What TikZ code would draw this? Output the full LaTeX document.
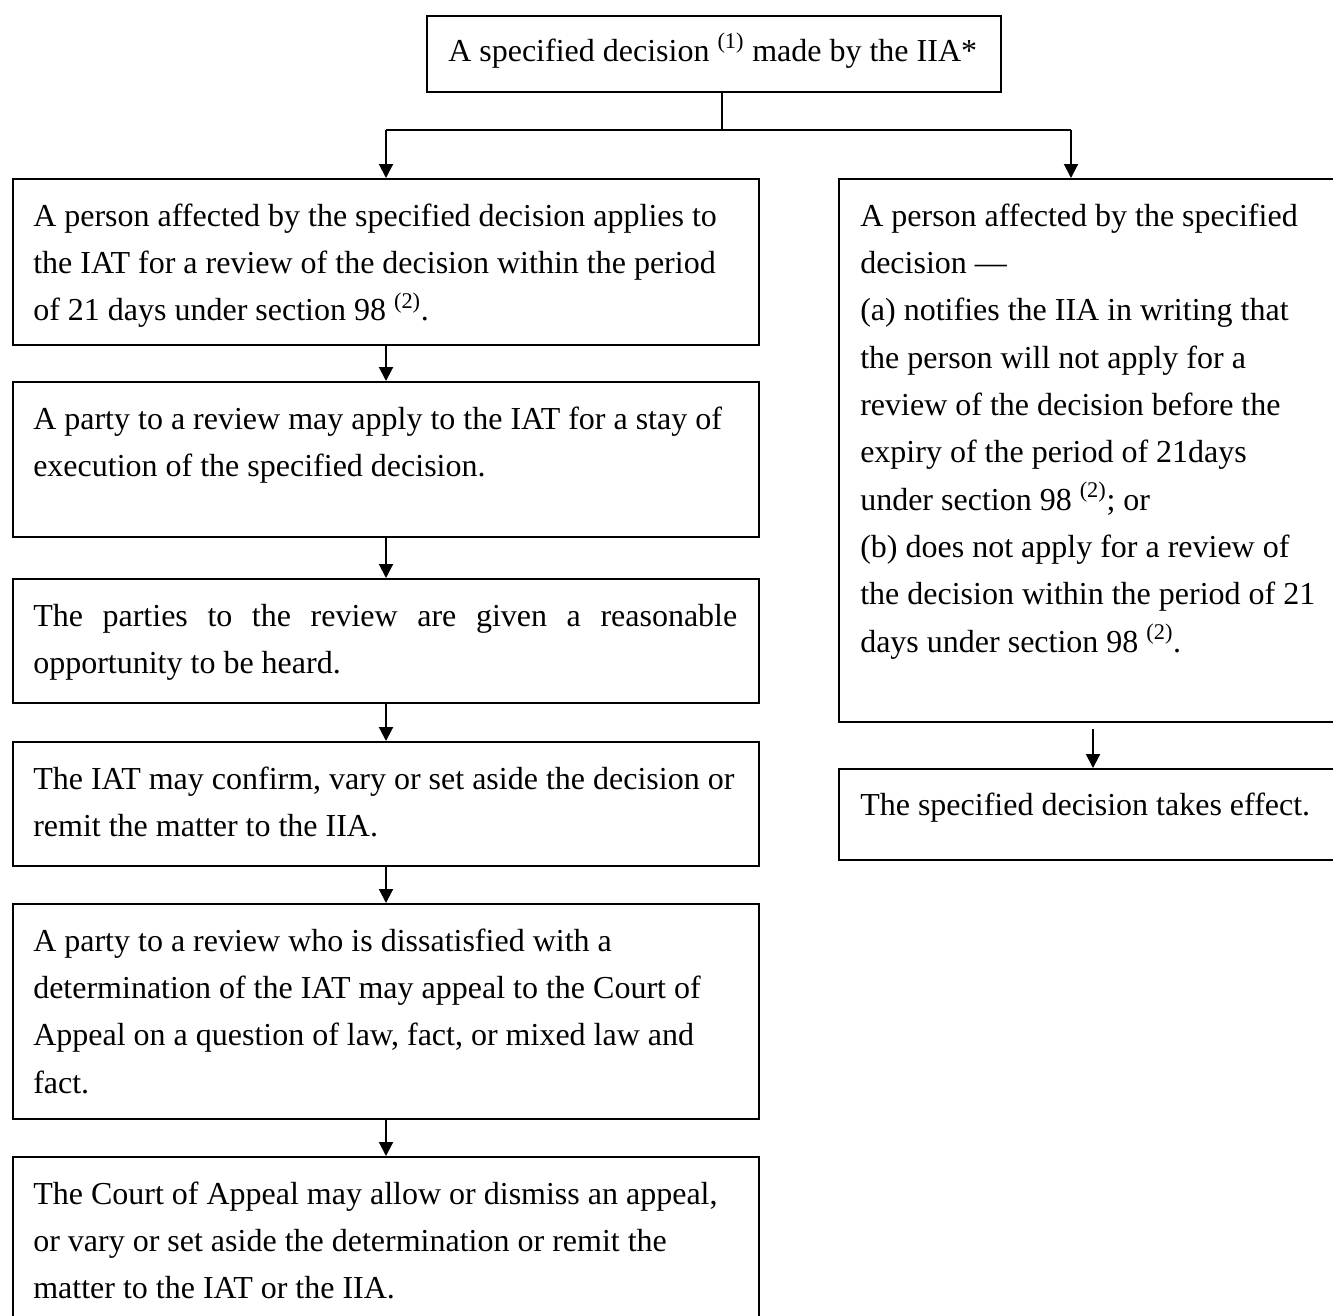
\documentclass[tikz,border=0pt]{standalone}
\usepackage{fontspec}
\setmainfont{Liberation Serif}
\usetikzlibrary{arrows.meta}
\begin{document}
\begin{tikzpicture}[x=0.75pt,y=-0.75pt,
  boxstyle/.style={draw, line width=1.5pt, rectangle, inner sep=0pt, anchor=north west},
  txt/.style={inner sep=0pt, anchor=base west, font=\fontsize{24pt}{35.5pt}\selectfont},
  conn/.style={line width=1.5pt},
  arr/.style={line width=1.5pt, -{Triangle[width=10.5pt,length=10.5pt]}}]
\useasboundingbox (0,0) rectangle (1333,1315);
\clip (0,0) rectangle (1333,1315);

% top box
\node[boxstyle, minimum width=430.5pt, minimum height=57pt] (top) at (426,15) {};
\node[txt] (ttop) at (448,61) {A specified decision \textsuperscript{(1)} made by the IIA*};

% left column
\node[boxstyle, minimum width=559.5pt, minimum height=124.5pt] (b1) at (12,178) {};
\node[txt] (t1) at (33,226) {\parbox[t]{540pt}{\raggedright A person affected by the specified decision applies to\\the IAT for a review of the decision within the period\\of 21 days under section 98 \textsuperscript{(2)}.}};

\node[boxstyle, minimum width=559.5pt, minimum height=116.25pt] (b2) at (12,381) {};
\node[txt] (t2) at (33,429) {\parbox[t]{540pt}{\raggedright A party to a review may apply to the IAT for a stay of\\execution of the specified decision.}};

\node[boxstyle, minimum width=559.5pt, minimum height=93pt] (b3) at (12,578) {};
\node[txt] (t3) at (33,626) {\parbox[t]{540pt}{\raggedright \makebox[528pt][s]{The parties to the review are given a reasonable}\\opportunity to be heard.}};

\node[boxstyle, minimum width=559.5pt, minimum height=93pt] (b4) at (12,741) {};
\node[txt] (t4) at (33,789) {\parbox[t]{540pt}{\raggedright The IAT may confirm, vary or set aside the decision or\\remit the matter to the IIA.}};

\node[boxstyle, minimum width=559.5pt, minimum height=161.25pt] (b5) at (12,903) {};
\node[txt] (t5) at (33,951) {\parbox[t]{540pt}{\raggedright A party to a review who is dissatisfied with a\\determination of the IAT may appeal to the Court of\\Appeal on a question of law, fact, or mixed law and\\fact.}};

\node[boxstyle, minimum width=559.5pt, minimum height=135pt] (b6) at (12,1156) {};
\node[txt] (t6) at (33,1204) {\parbox[t]{540pt}{\raggedright The Court of Appeal may allow or dismiss an appeal,\\or vary or set aside the determination or remit the\\matter to the IAT or the IIA.}};

% right column
\node[boxstyle, minimum width=390pt, minimum height=407.25pt] (rb) at (838,178) {};
\node[txt] (tr) at (860,226) {\parbox[t]{400pt}{\raggedright A person affected by the specified\\decision ---\\(a) notifies the IIA in writing that\\the person will not apply for a\\review of the decision before the\\expiry of the period of 21days\\under section 98 \textsuperscript{(2)}; or\\(b) does not apply for a review of\\the decision within the period of 21\\days under section 98 \textsuperscript{(2)}.}};

\node[boxstyle, minimum width=390pt, minimum height=68.25pt] (sb) at (838,768) {};
\node[txt] (ts) at (860,815) {The specified decision takes effect.};

% connectors
\coordinate (j) at (722,130);
\coordinate (la) at (386,130);
\coordinate (ra) at (1071,130);
\coordinate (sa) at (1093,729);
\draw[conn] (top.south -| j) -- (j);
\draw[conn] (la) -- (ra);
\draw[arr] (la) -- (la |- b1.north);
\draw[arr] (ra) -- (ra |- rb.north);
\draw[arr] (b1.south -| la) -- (b2.north -| la);
\draw[arr] (b2.south -| la) -- (b3.north -| la);
\draw[arr] (b3.south -| la) -- (b4.north -| la);
\draw[arr] (b4.south -| la) -- (b5.north -| la);
\draw[arr] (b5.south -| la) -- (b6.north -| la);
\draw[arr] (sa) -- (sa |- sb.north);
\end{tikzpicture}
\end{document}
